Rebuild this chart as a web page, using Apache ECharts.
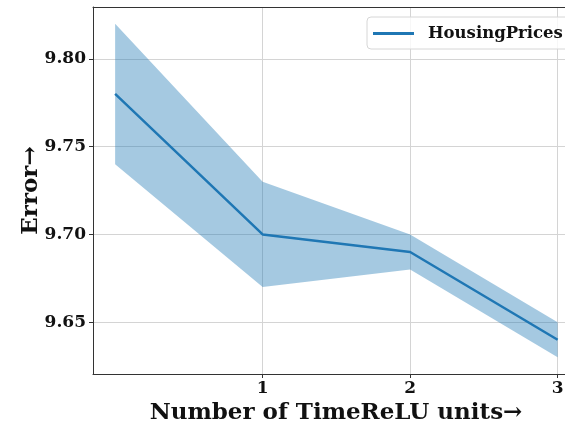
<!DOCTYPE html>
<html><head><meta charset="utf-8">
<script src="https://cdn.jsdelivr.net/npm/echarts@6/dist/echarts.min.js"></script>
<style>html,body{margin:0;padding:0;background:#fff}#c{width:565px;height:423px}</style>
</head><body><div id="c"></div>
<script>
const xValues = [0, 1, 2, 3];
const meanErr = [9.78, 9.70, 9.69, 9.64];
const upperErr = [9.82, 9.73, 9.70, 9.65];
const lowerErr = [9.74, 9.67, 9.68, 9.63];
const xTicks = [1, 2, 3];
const yTicks = [9.65, 9.70, 9.75, 9.80];

const font = 'DejaVu Serif';
const chart = echarts.init(document.getElementById('c'), null, {renderer: 'canvas'});
chart.setOption({
  animation: false,
  grid: {left: 93, right: 0, top: 7, bottom: 49, show: false,
         containLabel: false, outerBoundsMode: 'none'},
  legend: {
    data: ['HousingPrices'], left: 367, top: 17,
    padding: [8, 8, 7, 6], itemWidth: 41, itemHeight: 3,
    backgroundColor: 'rgba(255,255,255,0.8)', borderColor: '#d6d6d6', borderWidth: 1, borderRadius: 4,
    textStyle: {fontFamily: font, fontWeight: 'bold', fontSize: 16.5, color: '#111', padding: [0, 0, 0, 9]},
    icon: 'rect'
  },
  xAxis: [{
    type: 'value', min: -0.15, max: 3.05, position: 'bottom',
    name: 'Number of TimeReLU units\u2192', nameLocation: 'middle', nameGap: 28, nameMoveOverlap: false,
    nameTextStyle: {fontFamily: font, fontWeight: 'bold', fontSize: 23, color: '#111', padding: [0, 0, 0, 14]},
    axisLine: {show: true, onZero: false, lineStyle: {color: '#333', width: 1}},
    axisTick: {show: true, customValues: xTicks, length: 4, lineStyle: {color: '#333'}},
    axisLabel: {customValues: xTicks, fontFamily: font, fontWeight: 'bold', fontSize: 17, color: '#111', margin: 6},
    splitLine: {show: true, lineStyle: {color: '#d4d4d4', width: 1}}
  }, {
    type: 'value', min: -0.15, max: 3.05, position: 'top',
    axisLine: {show: true, onZero: false, lineStyle: {color: '#333', width: 1}},
    axisTick: {show: false}, axisLabel: {show: false}, splitLine: {show: false}
  }],
  yAxis: {
    type: 'value', min: 9.6205, max: 9.8295,
    name: 'Error\u2192', nameLocation: 'middle', nameGap: 50, nameRotate: 90, nameMoveOverlap: false,
    nameTextStyle: {fontFamily: font, fontWeight: 'bold', fontSize: 23, color: '#111'},
    axisLine: {show: true, onZero: false, lineStyle: {color: '#333', width: 1}},
    axisTick: {show: true, customValues: yTicks, length: 4, lineStyle: {color: '#333'}},
    axisLabel: {customValues: yTicks, fontFamily: font, fontWeight: 'bold', fontSize: 17, color: '#111', margin: 7,
      formatter: v => v.toFixed(2)},
    splitLine: {show: true, lineStyle: {color: '#d4d4d4', width: 1}}
  },
  series: [
    {name: 'band', type: 'custom', silent: true, z: 1,
     data: xValues.map((x, i) => [x, lowerErr[i], upperErr[i]]),
     renderItem: function (params, api) {
       if (params.dataIndex !== 0) return null;
       const pts = [];
       for (let i = 0; i < xValues.length; i++) pts.push(api.coord([xValues[i], upperErr[i]]));
       for (let i = xValues.length - 1; i >= 0; i--) pts.push(api.coord([xValues[i], lowerErr[i]]));
       return {type: 'polygon', shape: {points: pts}, style: {fill: 'rgba(31,119,180,0.4)', stroke: null}};
     }},
    {name: 'HousingPrices', type: 'line', symbol: 'none', color: '#1f77b4', z: 3,
     lineStyle: {color: '#1f77b4', width: 2.5},
     data: xValues.map((x, i) => [x, meanErr[i]])}
  ]
});
</script></body></html>
